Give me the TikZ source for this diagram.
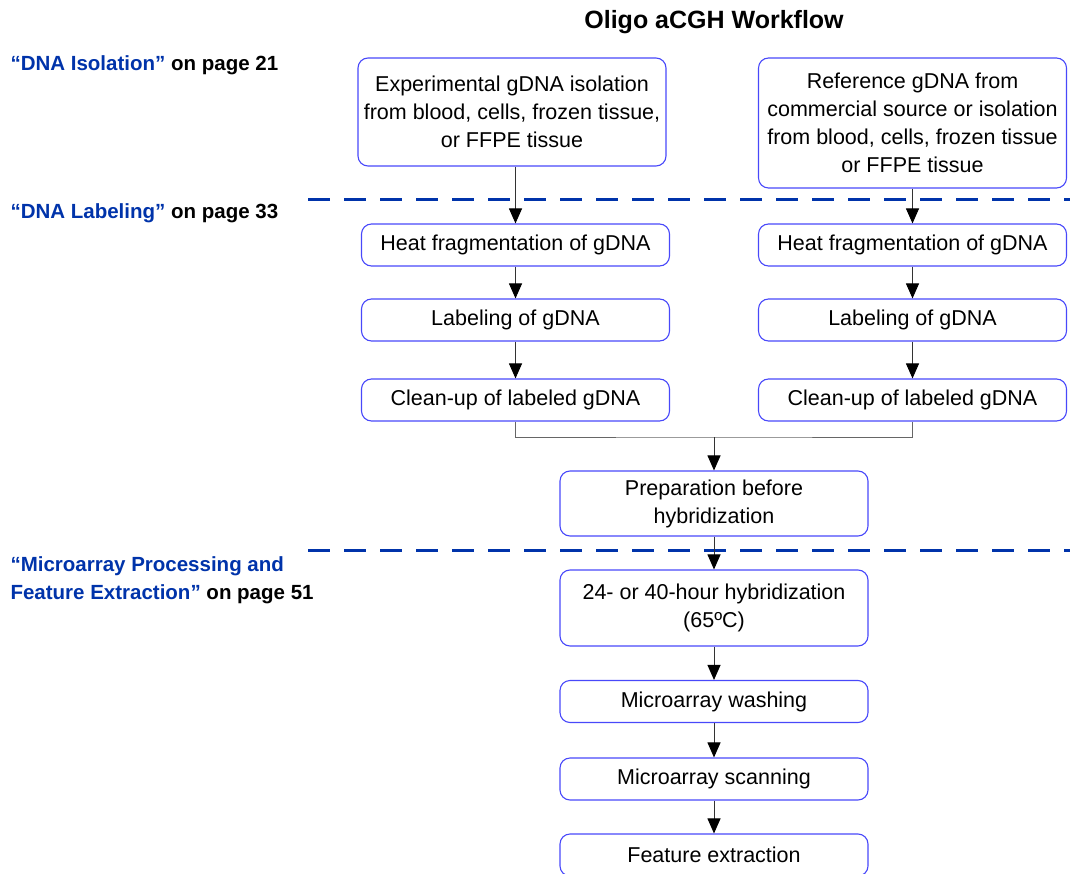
\documentclass[tikz,border=0pt]{standalone}
\usepackage{fontspec}
\setmainfont{Liberation Sans}
\usetikzlibrary{arrows.meta}

\definecolor{linkblue}{RGB}{0,51,170}
\definecolor{boxblue}{RGB}{72,72,250}

\tikzset{
  stepbox/.style={draw=boxblue, line width=1.1pt, rounded corners=10pt,
    minimum width=308pt, minimum height=42pt, inner sep=2pt, align=center,
    font=\fontsize{21.5}{28}\selectfont},
  flow/.style={draw=black!80, line width=1pt, -{Triangle[length=15pt,width=13pt,color=black]}},
  joint/.style={draw=black!60, line width=1pt},
  sect/.style={draw=linkblue, line width=3pt, dash pattern=on 22pt off 14pt},
  chapter/.style={anchor=west, align=left, font=\bfseries\fontsize{20.5}{28}\selectfont},
}

\begin{document}
\begin{tikzpicture}[x=1pt, y=-1pt]
\useasboundingbox (0,0) rectangle (1070,874);
\clip (0,0) rectangle (1070,874);

% title and chapter references
\node (title) at (714,22) {\bfseries\fontsize{25}{30}\selectfont Oligo aCGH Workflow};
\node[chapter] (isol) at (7,65) {{\color{linkblue}“DNA Isolation”} on page 21};
\node[chapter] (label) at (7,213) {{\color{linkblue}“DNA Labeling”} on page 33};
\node[chapter] (proc) at (7,580) {{\color{linkblue}“Microarray Processing and}\\{\color{linkblue}Feature Extraction”} on page 51};

% section separators
\draw[sect] (308,200) -- (1070,200);
\draw[sect] (308,550) -- (1070,550);

% two sample columns
\node[stepbox, minimum height=108pt] (exp) at (512,112) {Experimental gDNA isolation\\from blood, cells, frozen tissue,\\or FFPE tissue};
\node[stepbox, minimum height=130pt] (ref) at (912.5,123) {Reference gDNA from\\commercial source or isolation\\from blood, cells, frozen tissue\\or FFPE tissue};

\node[stepbox] (heatL) at (515.5,245) {Heat fragmentation of gDNA};
\node[stepbox] (heatR) at (912.5,245) {Heat fragmentation of gDNA};
\node[stepbox] (labL) at (515.5,320) {Labeling of gDNA};
\node[stepbox] (labR) at (912.5,320) {Labeling of gDNA};
\node[stepbox] (cleanL) at (515.5,400) {Clean-up of labeled gDNA};
\node[stepbox] (cleanR) at (912.5,400) {Clean-up of labeled gDNA};

% merged column
\node[stepbox, minimum height=65pt] (prep) at (714,503.5) {Preparation before\\hybridization};
\node[stepbox, minimum height=76pt] (hyb) at (714,608) {24- or 40-hour hybridization\\(65ºC)};
\node[stepbox] (wash) at (714,701.5) {Microarray washing};
\node[stepbox] (scan) at (714,779) {Microarray scanning};
\node[stepbox] (feat) at (714,855) {Feature extraction};

% connectors
\draw[flow] (exp.south -| heatL.north) -- (heatL.north);
\draw[flow] (ref.south) -- (heatR.north);
\draw[flow] (heatL) -- (labL);
\draw[flow] (heatR) -- (labR);
\draw[flow] (labL) -- (cleanL);
\draw[flow] (labR) -- (cleanR);
\coordinate (merge) at (714,437);
\draw[joint] (cleanL.south) |- (merge) -| (cleanR.south);
\draw[flow] (merge) -- (prep.north);
\draw[flow] (prep) -- (hyb);
\draw[flow] (hyb) -- (wash);
\draw[flow] (wash) -- (scan);
\draw[flow] (scan) -- (feat);
\end{tikzpicture}
\end{document}
